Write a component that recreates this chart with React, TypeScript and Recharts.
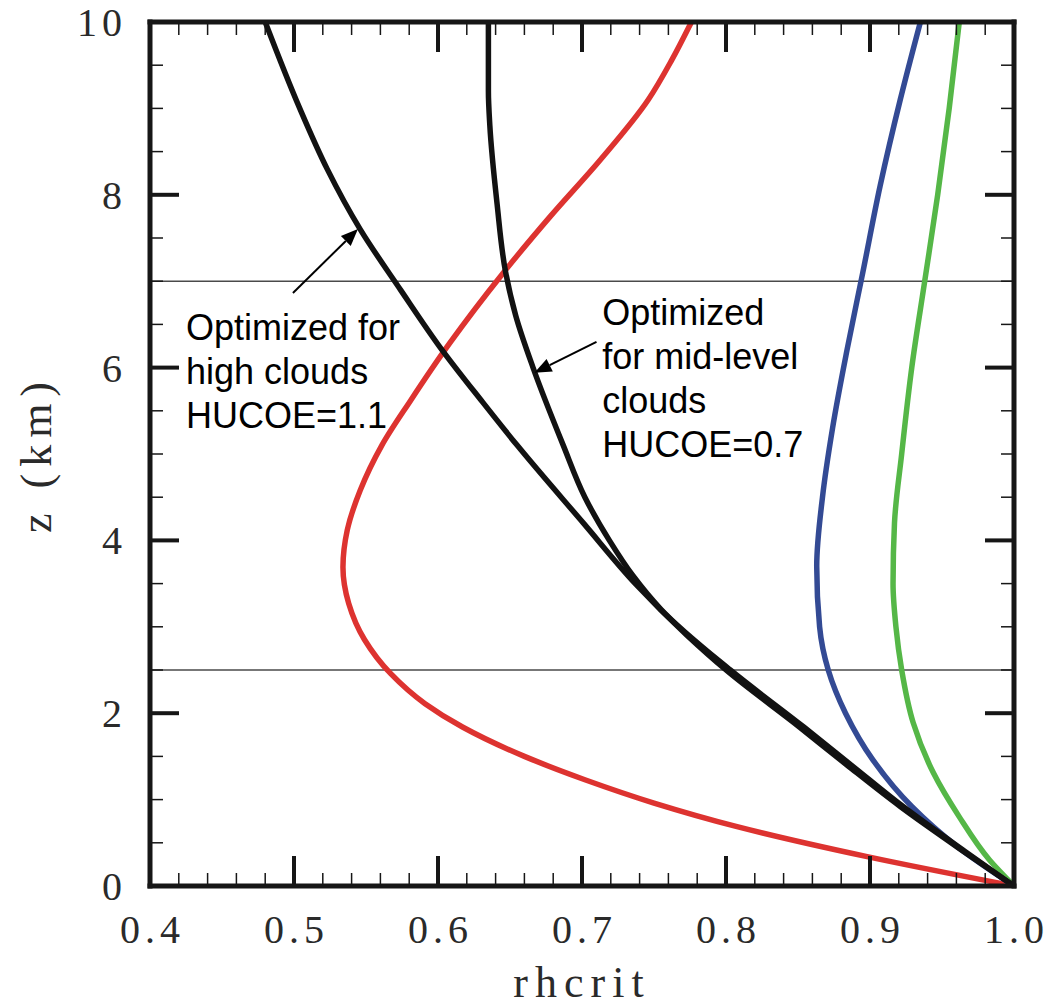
import { LineChart, Line, XAxis, YAxis, ReferenceLine, ReferenceDot } from "recharts";

// [rhcrit, z (km)] pairs, top of the plot downwards
const highCloudCurve = [
  [0.48, 10], [0.504, 9.0], [0.523, 8.3], [0.546, 7.6], [0.574, 6.9], [0.603, 6.2],
  [0.631, 5.6], [0.655, 5.1], [0.701, 4.2], [0.737, 3.5], [0.773, 2.9], [0.8, 2.5],
  [0.851, 1.84], [0.884, 1.4], [0.921, 0.92], [0.965, 0.4], [1.0, 0],
];
const midCloudCurve = [
  [0.635, 10], [0.635, 9.2], [0.636, 8.8], [0.641, 7.9], [0.647, 7.1], [0.654, 6.6],
  [0.666, 6.0], [0.687, 5.1], [0.702, 4.5], [0.719, 4.0], [0.735, 3.6], [0.755, 3.2],
  [0.803, 2.5], [0.854, 1.84], [0.887, 1.4], [0.923, 0.92], [0.966, 0.4], [1.0, 0],
];
const redCurve = [
  [0.776, 10], [0.762, 9.55], [0.746, 9.1], [0.7125, 8.4], [0.678, 7.75], [0.645, 7.09],
  [0.608, 6.28], [0.581, 5.62], [0.561, 5.1], [0.546, 4.58], [0.537, 4.12], [0.534, 3.69],
  [0.538, 3.27], [0.549, 2.85], [0.567, 2.46], [0.591, 2.11], [0.617, 1.84], [0.66, 1.5],
  [0.702, 1.23], [0.75, 0.96], [0.807, 0.69], [0.898, 0.34], [1.0, 0],
];
const blueCurve = [
  [0.935, 10], [0.921, 9.1], [0.907, 8.1], [0.895, 7.1], [0.884, 6.2], [0.874, 5.3],
  [0.867, 4.5], [0.863, 3.7], [0.865, 3.0], [0.871, 2.5], [0.883, 2.0], [0.902, 1.46],
  [0.929, 0.92], [0.961, 0.45], [1.0, 0],
];
const greenCurve = [
  [0.962, 10], [0.955, 9.0], [0.947, 8.0], [0.938, 7.0], [0.929, 6.0], [0.922, 5.0],
  [0.917, 4.2], [0.916, 3.5], [0.918, 3.0], [0.922, 2.5], [0.93, 1.89], [0.944, 1.31],
  [0.962, 0.8], [0.983, 0.3], [1.0, 0],
];

const levelLines = [7, 2.5];

// minor ticks every 0.02 / 0.5, labelled every 0.1 / 2
const xTicks = Array.from({ length: 31 }, (_, i) => Math.round((0.4 + i * 0.02) * 100) / 100);
const yTicks = Array.from({ length: 21 }, (_, i) => i * 0.5);

const highNote = ["Optimized for", "high clouds", "HUCOE=1.1"];
const midNote = ["Optimized", "for mid-level", "clouds", "HUCOE=0.7"];

const INK = "#161616";
const LABEL = "#2a2a2a";
const SERIF = "'Liberation Serif', 'Times New Roman', serif";
const SANS = "'Liberation Sans', Arial, sans-serif";

const rows = (pts: number[][]) => pts.map(([rh, z]) => ({ rh, z }));

const isMajorX = (v: number) => Math.round(v * 100) % 10 === 0;
const isMajorY = (v: number) => v % 2 === 0;

function BottomTick(props: any) {
  const { x, y, payload } = props;
  const v = payload.value;
  const major = isMajorX(v);
  return (
    <g>
      <line x1={x} x2={x} y1={y} y2={y - (major ? 30 : 13)} stroke={INK} strokeWidth={major ? 4 : 1.5} />
      {major && (
        <text x={x + 2.5} y={y + 57} textAnchor="middle" fontFamily={SERIF} fontSize={40} letterSpacing={5} fill={LABEL}>
          {v.toFixed(1)}
        </text>
      )}
    </g>
  );
}

function TopTick(props: any) {
  const { x, y, payload } = props;
  const major = isMajorX(payload.value);
  return <line x1={x} x2={x} y1={y} y2={y + (major ? 30 : 13)} stroke={INK} strokeWidth={major ? 4 : 1.5} />;
}

function LeftTick(props: any) {
  const { x, y, payload } = props;
  const v = payload.value;
  const major = isMajorY(v);
  return (
    <g>
      <line x1={x} x2={x + (major ? 29 : 13)} y1={y} y2={y} stroke={INK} strokeWidth={major ? 4 : 1.5} />
      {major && (
        <text x={x - 23} y={y + 14} textAnchor="end" fontFamily={SERIF} fontSize={40} letterSpacing={5} fill={LABEL}>
          {String(v)}
        </text>
      )}
    </g>
  );
}

function RightTick(props: any) {
  const { x, y, payload } = props;
  const major = isMajorY(payload.value);
  return <line x1={x} x2={x - (major ? 29 : 13)} y1={y} y2={y} stroke={INK} strokeWidth={major ? 4 : 1.5} />;
}

function YTitle(props: any) {
  const vb = props.viewBox || { x: 0, y: 22, width: 150, height: 864 };
  const cx = vb.x + 36;
  const cy = vb.y + vb.height / 2;
  return (
    <text x={cx} y={cy} transform={`rotate(-90 ${cx} ${cy})`} textAnchor="middle" dominantBaseline="central"
      fontFamily={SERIF} fontSize={44} letterSpacing={7} fill={LABEL}>
      z (km)
    </text>
  );
}

const note = (lines: string[]) => (p: any) => (
  <text x={p.cx} y={p.cy} fontFamily={SANS} fontSize={36} fill="#000">
    {lines.map((l, i) => (
      <tspan key={i} x={p.cx} dy={i === 0 ? 0 : 44}>{l}</tspan>
    ))}
  </text>
);

// arrow with its head on (cx, cy), tail offset by dx, dy pixels
const arrow = (dx: number, dy: number) => (p: any) => {
  const { cx, cy } = p;
  const tx = cx + dx;
  const ty = cy + dy;
  const a = Math.atan2(cy - ty, cx - tx);
  const len = 17;
  const half = 7;
  const bx = cx - len * Math.cos(a);
  const by = cy - len * Math.sin(a);
  const pts = [
    `${cx},${cy}`,
    `${bx - half * Math.sin(a)},${by + half * Math.cos(a)}`,
    `${bx + half * Math.sin(a)},${by - half * Math.cos(a)}`,
  ].join(" ");
  return (
    <g>
      <line x1={tx} y1={ty} x2={bx} y2={by} stroke="#000" strokeWidth={2} />
      <polygon points={pts} fill="#000" />
    </g>
  );
};

const frame = { stroke: INK, strokeWidth: 5, strokeLinecap: "square" as const };
const LW = 5.5;

export default function App() {
  return (
    <div style={{ position: "absolute", left: 0, top: 0 }}>
      <LineChart width={1048} height={1008} margin={{ top: 21, right: 33, bottom: 0, left: 0 }}>
        <XAxis
          dataKey="rh"
          type="number"
          domain={[0.4, 1]}
          ticks={xTicks}
          interval={0}
          allowDataOverflow
          height={122}
          tickSize={0}
          tickMargin={0}
          axisLine={frame}
          tickLine={false}
          tick={BottomTick}
          label={{ value: "rhcrit", position: "insideBottom", offset: 11, fontFamily: SERIF, fontSize: 44, fill: LABEL, style: { letterSpacing: 7 } }}
        />
        <XAxis
          xAxisId="top"
          orientation="top"
          dataKey="rh"
          type="number"
          domain={[0.4, 1]}
          ticks={xTicks}
          interval={0}
          allowDataOverflow
          height={1}
          tickSize={0}
          tickMargin={0}
          axisLine={frame}
          tickLine={false}
          tick={TopTick}
        />
        <YAxis
          type="number"
          domain={[0, 10]}
          ticks={yTicks}
          interval={0}
          allowDataOverflow
          width={150}
          tickSize={0}
          tickMargin={0}
          axisLine={frame}
          tickLine={false}
          tick={LeftTick}
          label={YTitle}
        />
        <YAxis
          yAxisId="right"
          orientation="right"
          type="number"
          domain={[0, 10]}
          ticks={yTicks}
          interval={0}
          allowDataOverflow
          width={1}
          tickSize={0}
          tickMargin={0}
          axisLine={frame}
          tickLine={false}
          tick={RightTick}
        />
        {levelLines.map((z) => (
          <ReferenceLine key={z} y={z} stroke="#4a4a4a" strokeWidth={1.5} />
        ))}
        <Line data={rows(redCurve)} dataKey="z" type="monotoneY" stroke="#dd3330" strokeWidth={LW} dot={false} activeDot={false} isAnimationActive={false} />
        <Line data={rows(blueCurve)} dataKey="z" type="monotoneY" stroke="#334a94" strokeWidth={LW} dot={false} activeDot={false} isAnimationActive={false} />
        <Line data={rows(greenCurve)} dataKey="z" type="monotoneY" stroke="#55b747" strokeWidth={LW} dot={false} activeDot={false} isAnimationActive={false} />
        <Line data={rows(highCloudCurve)} dataKey="z" type="monotoneY" stroke="#121212" strokeWidth={LW} dot={false} activeDot={false} isAnimationActive={false} />
        <Line data={rows(midCloudCurve)} dataKey="z" type="monotoneY" stroke="#121212" strokeWidth={LW} dot={false} activeDot={false} isAnimationActive={false} />
        <ReferenceDot x={0.425} y={6.32} r={0} shape={note(highNote)} />
        <ReferenceDot x={0.714} y={6.49} r={0} shape={note(midNote)} />
        <ReferenceDot x={0.5444} y={7.604} r={0} shape={arrow(-65, 64)} />
        <ReferenceDot x={0.667} y={5.94} r={0} shape={arrow(62, -31)} />
      </LineChart>
    </div>
  );
}
